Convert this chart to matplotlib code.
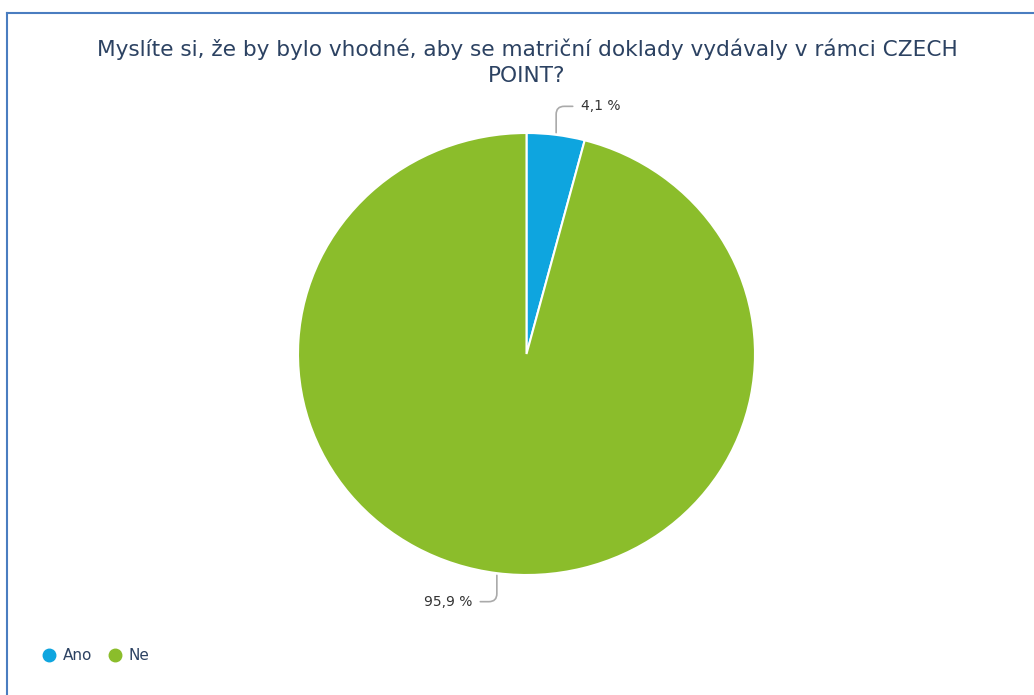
import numpy as np
import matplotlib
matplotlib.use("Agg")
import matplotlib.pyplot as plt
from matplotlib.lines import Line2D

# data
labels = ["Ano", "Ne"]
values = [4.1, 95.9]
colors = ["#0ea5df", "#8bbd2b"]
value_texts = ["4,1 %", "95,9 %"]

title = "Myslíte si, že by bylo vhodné, aby se matriční doklady vydávaly v rámci CZECH\nPOINT?"

W, H = 1034, 695
fig = plt.figure(figsize=(W / 100, H / 100), dpi=100)

# frame (top and left edge only visible)
fig.add_artist(Line2D([7 / W, 7 / W], [0, 1 - 13 / H], color="#4a7dc0", lw=1.5))
fig.add_artist(Line2D([7 / W, 1], [1 - 13 / H, 1 - 13 / H], color="#4a7dc0", lw=1.5))

fig.text(527 / W, 1 - 62 / H, title, ha="center", va="center", fontsize=15.6,
         color="#2c4262", linespacing=1.35)

# pie axes (slightly squashed vertically like the original)
cx, cy, rx, ry = 526.5, 354, 228.5, 221
ax = fig.add_axes([(cx - rx) / W, (H - cy - ry) / H, 2 * rx / W, 2 * ry / H])
wedges, _ = ax.pie(values, colors=colors, startangle=90, counterclock=False,
                   wedgeprops=dict(edgecolor="white", linewidth=1.5))
ax.set_xlim(-1, 1)
ax.set_ylim(-1, 1)
ax.set_aspect("auto")
ax.axis("off")

for w, txt in zip(wedges, value_texts):
    ang = np.deg2rad((w.theta1 + w.theta2) / 2)
    x, y = np.cos(ang), np.sin(ang)
    sx = np.sign(x)
    ax.annotate(txt, xy=(x * 1.01, y * 1.01),
                xytext=(x * 1.08 + sx * 0.1, y * 1.13),
                ha="left" if sx > 0 else "right", va="center",
                fontsize=10, color="#333333", annotation_clip=False,
                arrowprops=dict(arrowstyle="-", color="#aaaaaa", lw=1.2,
                                shrinkA=4, shrinkB=0,
                                connectionstyle="angle,angleA=0,angleB=90,rad=8"))

# legend
handles = [Line2D([], [], marker="o", ls="", markersize=9, markerfacecolor=c,
                  markeredgecolor=c) for c in colors]
leg = fig.legend(handles, labels, loc="lower left", bbox_to_anchor=(26 / W, 18 / H),
                 ncol=2, frameon=False, fontsize=11, handletextpad=0.3,
                 columnspacing=0.9, handlelength=1.2)
for t in leg.get_texts():
    t.set_color("#2c4262")

fig.savefig("out.png", dpi=100, facecolor="white")
